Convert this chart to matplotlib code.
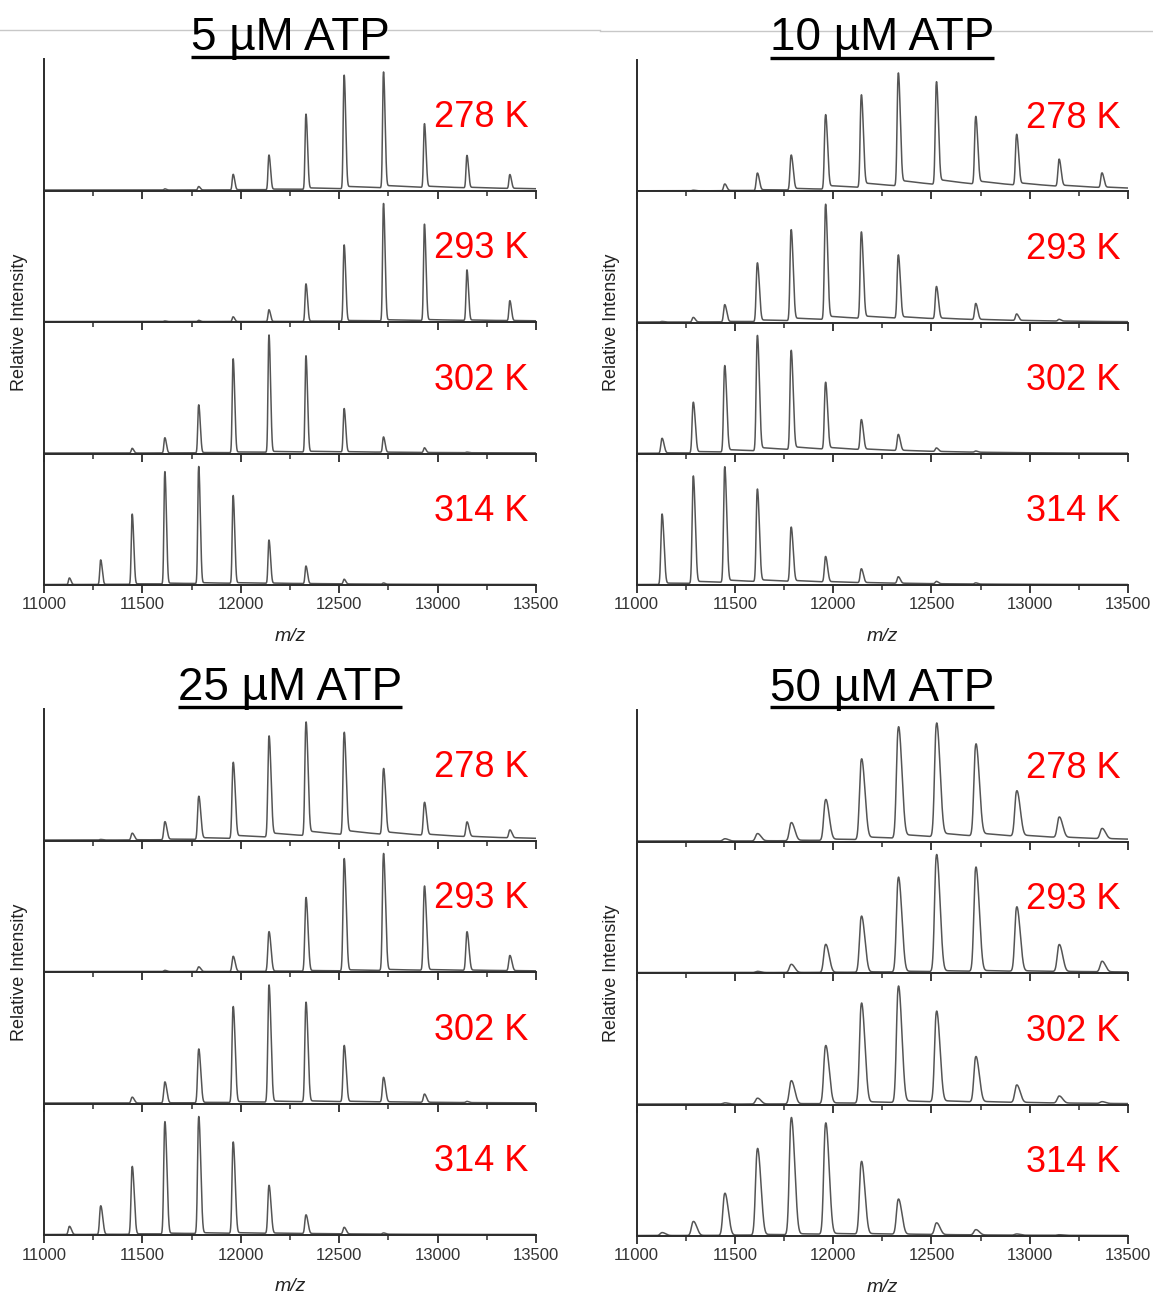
import numpy as np
import matplotlib
matplotlib.use("Agg")
import matplotlib.pyplot as plt
from matplotlib.lines import Line2D
from matplotlib.ticker import MultipleLocator

plt.rcParams['font.family'] = ['Liberation Sans', 'DejaVu Sans']

# ---------------- data ----------------
peak_mz = [11128, 11287, 11447, 11613, 11785, 11960, 12142, 12330, 12524, 12724, 12932, 13148, 13366]
temperatures = ["278 K", "293 K", "302 K", "314 K"]
titles = ["5 µM ATP", "10 µM ATP", "25 µM ATP", "50 µM ATP"]
xticks = [11000, 11500, 12000, 12500, 13000, 13500]

atp5_278 = [0, 0, 0, 0.01, 0.03, 0.135, 0.30, 0.65, 0.98, 1.0, 0.55, 0.28, 0.12]
atp5_293 = [0, 0, 0, 0.005, 0.01, 0.04, 0.10, 0.32, 0.65, 1.0, 0.82, 0.43, 0.17]
atp5_302 = [0, 0, 0.04, 0.13, 0.41, 0.80, 1.0, 0.82, 0.37, 0.13, 0.04, 0.005, 0]
atp5_314 = [0.056, 0.21, 0.60, 0.96, 1.0, 0.75, 0.37, 0.15, 0.04, 0.01, 0, 0, 0]

atp10_278 = [0, 0.005, 0.06, 0.155, 0.31, 0.66, 0.82, 1.0, 0.91, 0.60, 0.45, 0.24, 0.13]
atp10_293 = [0.005, 0.04, 0.15, 0.51, 0.79, 1.0, 0.75, 0.55, 0.28, 0.14, 0.056, 0.015, 0]
atp10_302 = [0.13, 0.44, 0.75, 1.0, 0.86, 0.58, 0.26, 0.14, 0.03, 0.01, 0, 0, 0]
atp10_314 = [0.61, 0.93, 1.0, 0.80, 0.47, 0.22, 0.12, 0.056, 0.02, 0.01, 0, 0, 0]

atp25_278 = [0, 0.005, 0.06, 0.16, 0.38, 0.67, 0.89, 1.0, 0.90, 0.58, 0.29, 0.13, 0.07]
atp25_293 = [0, 0, 0, 0.01, 0.04, 0.13, 0.34, 0.63, 0.96, 1.0, 0.72, 0.33, 0.13]
atp25_302 = [0, 0, 0.05, 0.18, 0.46, 0.82, 1.0, 0.85, 0.48, 0.21, 0.07, 0.01, 0]
atp25_314 = [0.07, 0.245, 0.58, 0.96, 1.0, 0.78, 0.41, 0.16, 0.056, 0.01, 0, 0, 0]

atp50_278 = [0, 0, 0.02, 0.065, 0.16, 0.36, 0.71, 0.98, 1.0, 0.81, 0.40, 0.18, 0.09]
atp50_293 = [0, 0, 0, 0.01, 0.07, 0.24, 0.48, 0.81, 1.0, 0.89, 0.55, 0.23, 0.09]
atp50_302 = [0, 0, 0.01, 0.05, 0.20, 0.50, 0.86, 1.0, 0.78, 0.39, 0.15, 0.06, 0.015]
atp50_314 = [0.025, 0.12, 0.36, 0.74, 1.0, 0.95, 0.62, 0.30, 0.10, 0.045, 0.01, 0.005, 0]

# relative level of the adduct background that trails each peak
tail5 = [0.025, 0.012, 0.01, 0.01]
tail10 = [0.06, 0.035, 0.035, 0.025]
tail25 = [0.05, 0.012, 0.012, 0.01]
tail50 = [0.045, 0.012, 0.02, 0.012]

spectra = [
    [atp5_278, atp5_293, atp5_302, atp5_314],
    [atp10_278, atp10_293, atp10_302, atp10_314],
    [atp25_278, atp25_293, atp25_302, atp25_314],
    [atp50_278, atp50_293, atp50_302, atp50_314],
]
tails = [tail5, tail10, tail25, tail50]

# ---------------- style / layout ----------------
W, H = 1153, 1298
DPI = 100
peak_sigma = [4.0, 5.0, 5.0, 8.5]      # peak width per panel (m/z units)
line_col = '#555555'
axis_col = '#2b2b2b'

panel_boxes = [  # x_left, x_right, y_top, y_bottom (pixels)
    (44, 536, 59, 585),
    (636.6, 1128, 60, 585),
    (44, 536, 709, 1235),
    (636.6, 1128, 710, 1236),
]

fig = plt.figure(figsize=(W / DPI, H / DPI), dpi=DPI)
fig.patch.set_facecolor('white')

# faint rule across the top of the page
fig.add_artist(Line2D([0, 600 / W], [1 - 29.5 / H] * 2, color='#c8c8c8', lw=1.0))
fig.add_artist(Line2D([600 / W, 1], [1 - 30.5 / H] * 2, color='#c8c8c8', lw=1.0))

x = np.linspace(11000, 13500, 6001)


def spectrum(heights, sigma, tail):
    y = np.zeros_like(x)
    for m, h in zip(peak_mz, heights):
        if h <= 0:
            continue
        d = x - m
        dp = np.clip(d, 0, None)
        left = np.exp(-0.5 * (d / sigma) ** 2)
        right = np.exp(-0.5 * (d / (sigma * 1.5)) ** 2)
        main = np.where(d < 0, left, right)
        shoulder = 0.35 * np.exp(-0.5 * ((d - 2.2 * sigma) / (sigma * 1.3)) ** 2)
        bg = np.where(d > 0, (1 - np.exp(-dp / (2 * sigma))) * np.exp(-dp / 350.0), 0.0)
        y += h * (main + shoulder) + h * tail * bg
    return y / y.max()


title_texts = []
for p, (x0, x1, yt, yb) in enumerate(panel_boxes):
    sub_h = (yb - yt) / 4.0
    for k in range(4):
        top = yt + k * sub_h
        bot = top + sub_h
        ax = fig.add_axes([x0 / W, 1 - bot / H, (x1 - x0) / W, sub_h / H])
        ax.patch.set_alpha(0)
        y = spectrum(spectra[p][k], peak_sigma[p], tails[p][k])
        ax.plot(x, y, color=line_col, lw=1.1)
        ax.set_xlim(11000, 13500)
        ax.set_ylim(-0.004, 1.11)
        for s in ('top', 'right'):
            ax.spines[s].set_visible(False)
        for s in ('left', 'bottom'):
            ax.spines[s].set_color(axis_col)
            ax.spines[s].set_linewidth(1.4)
        ax.set_yticks([])
        ax.xaxis.set_major_locator(MultipleLocator(500))
        ax.xaxis.set_minor_locator(MultipleLocator(250))
        ax.tick_params(axis='x', which='major', direction='out', length=6, width=1.3,
                       color=axis_col, labelsize=12, labelcolor='#333333', pad=3)
        ax.tick_params(axis='x', which='minor', direction='out', length=3.5, width=1.1,
                       color=axis_col)
        if k < 3:
            ax.set_xticklabels([])
        else:
            ax.set_xticks(xticks)
            ax.set_xticklabels([str(v) for v in xticks])
            ax.set_xlabel('m/z', fontsize=14, style='italic', color='#222222', labelpad=11)
        ax.text(0.888, 0.485, temperatures[k], transform=ax.transAxes, ha='center',
                va='baseline', color='#ff0000', fontsize=26)
        ax.set_zorder(10 - k)
    # y label for the stack
    ylab_x = 20 if p % 2 == 0 else 612
    fig.text(ylab_x / W, 1 - ((yt + yb) / 2) / H, 'Relative Intensity', rotation=90,
             ha='center', va='center', fontsize=13, color='#222222')
    # title
    tx = (x0 + x1) / 2
    ty = yt - 9.5
    t = fig.text(tx / W, 1 - ty / H, titles[p], ha='center', va='baseline',
                 fontsize=33, color='black')
    title_texts.append((t, ty))

fig.canvas.draw()
renderer = fig.canvas.get_renderer()
for t, ty in title_texts:
    bb = t.get_window_extent(renderer)
    uy = 1 - (ty + 7) / H
    fig.add_artist(Line2D([bb.x0 / W, bb.x1 / W], [uy, uy], color='black', lw=2.4,
                          solid_capstyle='butt'))

fig.savefig('out.png', dpi=DPI, facecolor='white')
